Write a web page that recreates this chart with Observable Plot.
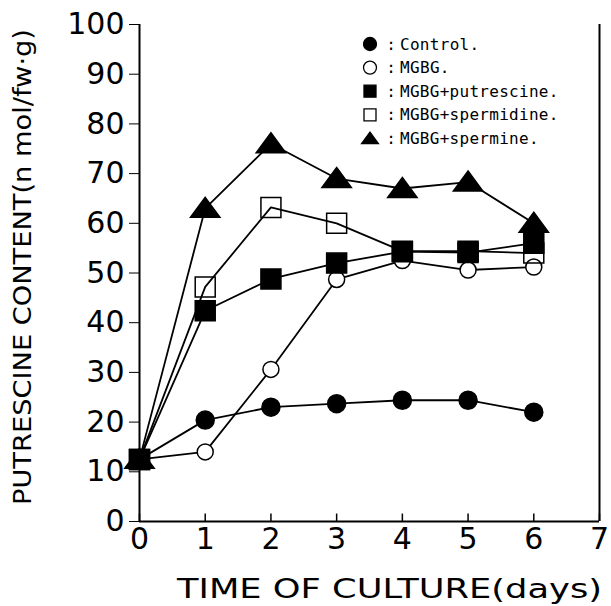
<!DOCTYPE html>
<html><head><meta charset="utf-8">
<script src="https://cdn.jsdelivr.net/npm/d3@7"></script>
<script src="https://cdn.jsdelivr.net/npm/@observablehq/plot@0.6"></script>
<style>body{margin:0;background:#fff} #chart{width:611px;height:606px}</style>
</head><body><div id="chart"></div>
<script>
// ---- data ----
const days = [0, 1, 2, 3, 4, 5, 6];
const seriesNames = ["Control.", "MGBG.", "MGBG+putrescine.", "MGBG+spermidine.", "MGBG+spermine."];
const control     = [12.5, 20.4, 23.0, 23.7, 24.4, 24.4, 22.0];
const mgbg        = [12.5, 14.0, 30.6, 48.7, 52.5, 50.6, 51.2];
const putrescine  = [12.5, 42.4, 48.8, 52.0, 54.3, 54.1, 56.0];
const spermidine  = [12.5, 47.2, 63.2, 60.0, 54.4, 54.4, 54.0];
const spermine    = [12.5, 63.0, 76.0, 69.0, 67.0, 68.3, 60.0];
const xTicks = [0, 1, 2, 3, 4, 5, 6, 7];
const yTicks = [0, 10, 20, 30, 40, 50, 60, 70, 80, 90, 100];
const xLabel = "TIME OF CULTURE(days)";
const yLabel = "PUTRESCINE CONTENT(n mol/fw\u00B7g)";

const valuesBySeries = [control, mgbg, putrescine, spermidine, spermine];
const rows = [];
seriesNames.forEach((s, i) => days.forEach((d, j) => rows.push({series: s, day: d, value: valuesBySeries[i][j]})));

// ---- symbols ----
const sym = {
  circle: {draw(ctx, size) { const r = Math.sqrt(size / Math.PI); ctx.moveTo(r, 0); ctx.arc(0, 0, r, 0, 2 * Math.PI); }},
  square: {draw(ctx, size) { const r = Math.sqrt(size / Math.PI); ctx.rect(-r, -r, 2 * r, 2 * r); }},
  triangle: {draw(ctx, size) { const r = Math.sqrt(size / Math.PI); ctx.moveTo(0, -1.05 * r); ctx.lineTo(1.4 * r, 0.85 * r); ctx.lineTo(-1.4 * r, 0.85 * r); ctx.closePath(); }}
};
// draw order and styles
const styles = {
  "MGBG.":            {symbol: sym.circle,   r: 8,  fill: "white", stroke: "black"},
  "MGBG+spermidine.": {symbol: sym.square,   r: 10, fill: "none",  stroke: "black"},
  "MGBG+putrescine.": {symbol: sym.square,   r: 10, fill: "black", stroke: "black"},
  "MGBG+spermine.":   {symbol: sym.triangle, r: 10.5, fill: "black", stroke: "black"},
  "Control.":         {symbol: sym.circle,   r: 9,  fill: "black", stroke: "black"}
};

const font = "DejaVu Sans, sans-serif";

const plot = Plot.plot({
  width: 611, height: 606,
  marginLeft: 139, marginRight: 12, marginTop: 24, marginBottom: 85,
  x: {domain: [0, 7]},
  y: {domain: [0, 100]},
  style: {fontFamily: font, background: "white", color: "black"},
  marks: [
    Plot.ruleY([0], {stroke: "black", strokeWidth: 2}),
    Plot.ruleX([0, 7], {stroke: "black", strokeWidth: 2}),
    Plot.ruleX(xTicks, {y1: 0, y2: 1.5, stroke: "black", strokeWidth: 1.5}),
    Plot.axisY({ticks: yTicks, tickSize: 10, tickPadding: 5, fontSize: 30, label: null, tickFormat: d => String(d)}),
    Plot.axisX({ticks: xTicks, tickSize: 0, tickPadding: 6, fontSize: 30, label: null, tickFormat: d => String(d)}),
    Plot.line(rows, {x: "day", y: "value", z: "series", stroke: "black", strokeWidth: 1.8}),
    ...Object.entries(styles).map(([name, st]) =>
      Plot.dot(rows.filter(r => r.series === name), {x: "day", y: "value", symbol: () => st.symbol, r: st.r, fill: st.fill, stroke: st.stroke, strokeWidth: 1.5})
    ),
    Plot.text([xLabel], {frameAnchor: "bottom", textAnchor: "middle", lineAnchor: "middle", dx: 20, dy: 68, fontSize: 26}),
    Plot.text([yLabel], {frameAnchor: "left", textAnchor: "middle", lineAnchor: "middle", dx: -117, dy: -6, rotate: -90, fontSize: 25})
  ]
});

const svg = d3.select(plot);
svg.selectAll("text").filter(function () { return this.textContent === xLabel; })
  .attr("textLength", 425).attr("lengthAdjust", "spacingAndGlyphs");
svg.selectAll("text").filter(function () { return this.textContent === yLabel; })
  .attr("textLength", 476).attr("lengthAdjust", "spacingAndGlyphs");

// ---- legend (inside the plot, top right) ----
const legendMarks = {
  "Control.": {symbol: sym.circle, r: 6.5, fill: "black"},
  "MGBG.": {symbol: sym.circle, r: 6.5, fill: "white"},
  "MGBG+putrescine.": {symbol: sym.square, r: 6, fill: "black"},
  "MGBG+spermidine.": {symbol: sym.square, r: 6, fill: "white"},
  "MGBG+spermine.": {symbol: sym.triangle, r: 6, fill: "black"}
};
const lg = svg.append("g").attr("font-family", "DejaVu Sans Mono, monospace").attr("font-size", 16).attr("text-anchor", "start");
seriesNames.forEach((name, i) => {
  const cy = 44 + i * 23.6;
  const m = legendMarks[name];
  lg.append("path").attr("d", d3.symbol(m.symbol, m.r * m.r * Math.PI)()).attr("transform", `translate(370,${cy})`)
    .attr("fill", m.fill).attr("stroke", "black").attr("stroke-width", 1.3);
  lg.append("text").attr("x", 391).attr("y", cy).attr("dy", "0.35em").attr("text-anchor", "middle").text(":");
  lg.append("text").attr("x", 400).attr("y", cy).attr("dy", "0.35em").attr("text-anchor", "start")
    .attr("textLength", name.length * 9.9).attr("lengthAdjust", "spacing").text(name);
});

document.getElementById("chart").appendChild(plot);
</script>
</body></html>
